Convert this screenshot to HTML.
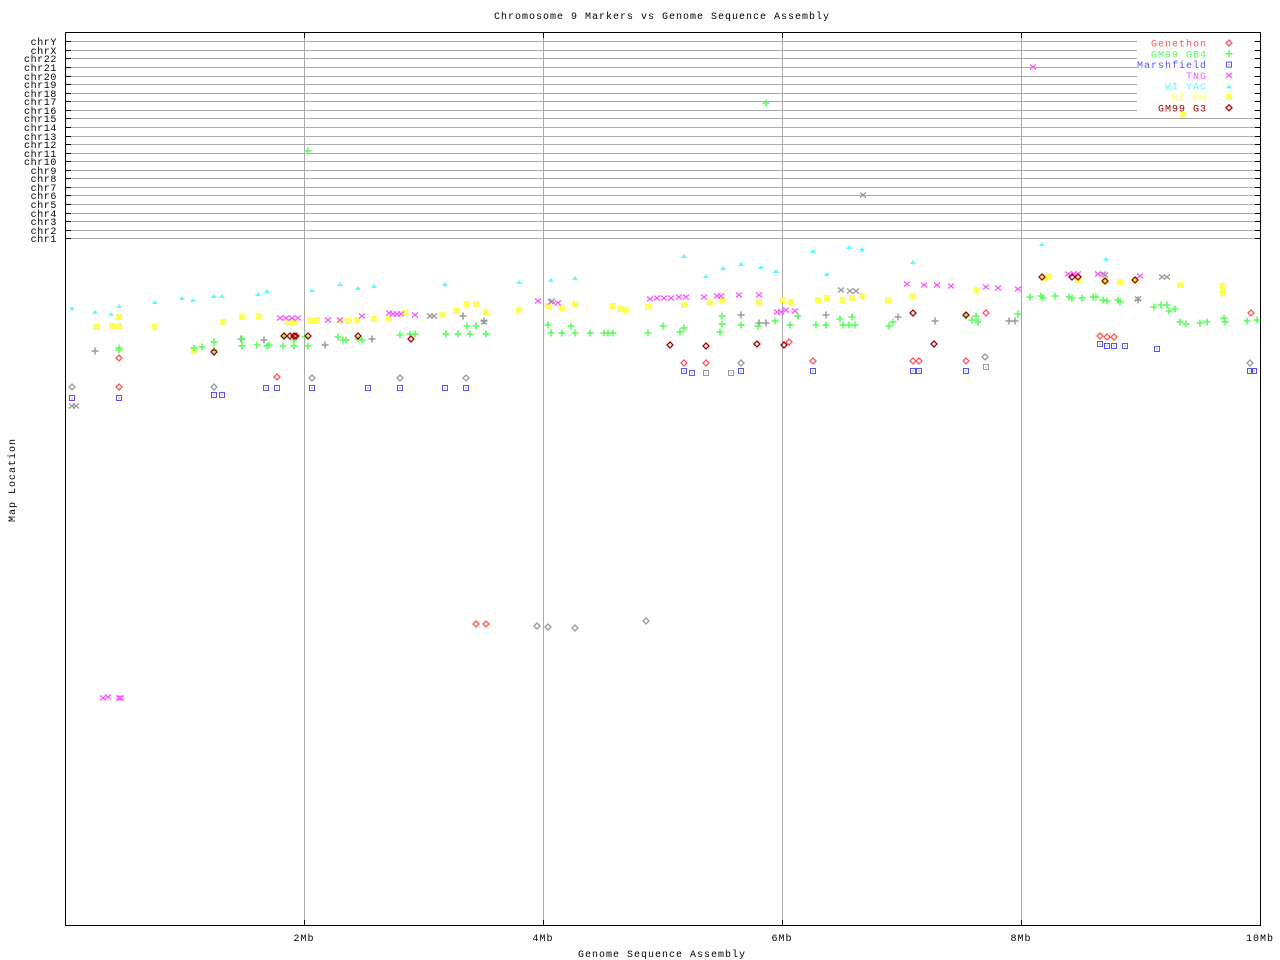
<!DOCTYPE html>
<html><head><meta charset="utf-8"><style>
html,body{margin:0;padding:0;background:#fff;}
svg{display:block;}
text{font-family:"Liberation Mono","DejaVu Sans Mono",monospace;font-size:10px;letter-spacing:1px;}
text.yl{letter-spacing:0.6px;}
</style></head><body>
<svg id="s" width="1280" height="960" xmlns="http://www.w3.org/2000/svg">
<rect width="1280" height="960" fill="#fff"/>
<g id="grid"></g>
<rect x="65.5" y="32.5" width="1195" height="893" fill="none" stroke="#000"/>
<text x="662" y="19" text-anchor="middle">Chromosome 9 Markers vs Genome Sequence Assembly</text>
<text x="662" y="957" text-anchor="middle">Genome Sequence Assembly</text>
<text transform="translate(15,480) rotate(-90)" text-anchor="middle">Map Location</text>
<text x="304" y="941" text-anchor="middle">2Mb</text>
<text x="543" y="941" text-anchor="middle">4Mb</text>
<text x="782" y="941" text-anchor="middle">6Mb</text>
<text x="1021" y="941" text-anchor="middle">8Mb</text>
<text x="1260" y="941" text-anchor="middle">10Mb</text>
<g id="pts"></g>
<g id="leg"></g>
</svg>
<script>
var NS="http://www.w3.org/2000/svg";
function el(p,t,a,txt){var e=document.createElementNS(NS,t);for(var k in a)e.setAttribute(k,a[k]);if(txt)e.textContent=txt;p.appendChild(e);return e;}
var g=document.getElementById('grid');
[304,543,782,1021].forEach(function(x){el(g,'line',{x1:x+.5,y1:33,x2:x+.5,y2:925,stroke:'#aaa'});el(g,'line',{x1:x+.5,y1:33,x2:x+.5,y2:38,stroke:'#000'});el(g,'line',{x1:x+.5,y1:920,x2:x+.5,y2:925,stroke:'#000'});});
var chr=['chrY','chrX','chr22','chr21','chr20','chr19','chr18','chr17','chr16','chr15','chr14','chr13','chr12','chr11','chr10','chr9','chr8','chr7','chr6','chr5','chr4','chr3','chr2','chr1'];
var s=document.getElementById('s');
chr.forEach(function(c,i){var y=Math.round(41.3+i*8.565)+.5;
el(g,'line',{x1:66,y1:y,x2:1260,y2:y,stroke:'#aaa'});
el(g,'line',{x1:66,y1:y,x2:71,y2:y,stroke:'#000'});el(g,'line',{x1:1255,y1:y,x2:1260,y2:y,stroke:'#000'});
el(s,'text',{x:57,y:y+3.5,'text-anchor':'end','class':'yl'},c);});
var P=document.getElementById('pts');
function mk(type,col,x,y,par){par=par||P;
 if(type=='d'){el(par,'polygon',{points:(x)+','+(y-3)+' '+(x+3)+','+y+' '+x+','+(y+3)+' '+(x-3)+','+y,fill:'none',stroke:col,'stroke-width':1.3});}
 else if(type=='p'){el(par,'path',{d:'M'+(x-3.5)+' '+y+'h7M'+x+' '+(y-3.5)+'v7',stroke:col,'stroke-width':1.5});}
 else if(type=='s'){el(par,'rect',{x:x-2.5,y:y-2.5,width:5,height:5,fill:'none',stroke:col,'stroke-width':1});el(par,'rect',{x:x-.5,y:y-.5,width:1,height:1,fill:col});}
 else if(type=='x'){el(par,'path',{d:'M'+(x-3)+' '+(y-2.5)+'L'+(x+3)+' '+(y+2.5)+'M'+(x-3)+' '+(y+2.5)+'L'+(x+3)+' '+(y-2.5),stroke:col,'stroke-width':1.3});}
 else if(type=='t'){el(par,'polygon',{points:(x-3)+','+(y+2)+' '+(x+3)+','+(y+2)+' '+x+','+(y-2),fill:col});}
 else if(type=='a'){el(par,'rect',{x:x-3,y:y-3,width:6,height:6,fill:col});}
}
var C={r:'#f55',g:'#5f5',b:'#55f',m:'#f5f',c:'#5ff',y:'#ff5',dr:'#a00',gr:'#999'};
function L(t,c,a){for(var i=0;i<a.length;i+=2)mk(t,c,a[i],a[i+1]);}
L('t',C.c,[72,308,95,312,111,314,119,306,155,302,182,298,193,300,214,296,222,296,258,294,267,291,312,290,340,284,358,288,374,286,445,284,519,282,551,280,575,278,684,256,706,276,723,268,741,264,761,267,776,271,813,251,827,274,849,247,862,249,913,262,1042,244,1106,259]);
L('a',C.y,[96,327,112,326,119,326,119,317,155,327,194,351,223,322,242,317,259,316,288,323,294,322,310,320,317,320,340,321,348,321,357,320,374,319,389,318,405,313,442,315,456,311,467,304,476,304,486,312,519,310,548,306,562,308,575,304,613,306,620,309,626,310,648,307,684,305,710,303,722,300,759,302,783,300,791,302,818,300,827,298,843,300,852,298,862,296,888,300,913,296,977,290,1045,278,1048,276,1078,280,1105,281,1120,282,1135,280,1183,115,1180,285,1223,286,1223,293]);
L('x',C.m,[103,698,108,697,119,698,121,698,280,318,286,318,292,318,298,318,328,320,340,320,362,316,389,313,393,314,397,314,401,314,415,315,538,301,551,302,558,303,650,299,657,298,664,298,671,298,679,297,686,297,704,297,717,296,721,296,739,295,759,295,777,312,781,312,786,310,795,311,907,284,924,285,937,285,951,286,986,287,998,288,1018,289,1033,67,1068,274,1074,274,1078,274,1098,274,1103,274,1140,276]);
L('x',C.gr,[72,406,76,406,430,316,434,316,484,322,552,301,841,290,850,291,856,291,863,195,1105,275,1162,277,1167,277,1138,299]);
L('p',C.gr,[95,351,241,339,264,340,325,345,372,339,463,316,484,321,741,315,759,323,766,323,826,315,898,317,935,321,1009,321,1015,321,1138,300]);
L('p',C.g,[119,348,119,350,194,348,202,347,214,342,214,350,242,339,242,346,257,345,267,346,269,345,283,346,284,337,294,346,294,340,305,337,308,346,308,151,338,337,343,340,346,340,358,339,362,340,400,335,410,334,415,334,446,334,458,334,470,334,486,334,467,326,476,326,548,325,551,333,562,333,571,326,575,333,590,333,604,333,608,333,613,333,648,333,663,326,680,332,684,328,722,316,722,324,720,332,741,325,758,326,775,321,766,103,790,325,798,316,816,325,826,325,843,325,840,319,849,325,852,317,855,325,889,326,893,322,966,316,972,320,976,316,978,322,1018,314,1030,297,1041,296,1043,298,1055,296,1069,297,1072,298,1082,298,1093,297,1096,297,1103,300,1107,301,1118,300,1120,302,1154,307,1161,305,1167,305,1169,311,1175,309,1180,322,1186,324,1200,323,1207,322,1224,318,1225,322,1247,321,1257,320]);
L('d',C.r,[119,387,119,358,277,377,476,624,486,624,684,363,706,363,813,361,913,361,919,361,966,361,986,313,1100,336,1107,337,1114,337,1251,313,789,342]);
L('d',C.gr,[72,387,214,387,312,378,400,378,466,378,537,626,548,627,575,628,646,621,741,363,1250,363,985,357]);
L('d',C.dr,[214,352,284,336,290,336,294,336,296,336,308,336,358,336,411,339,670,345,706,346,757,344,784,345,934,344,913,313,966,315,1072,277,1078,277,1105,281,1135,280,1042,277]);
L('s',C.b,[72,398,119,398,214,395,222,395,266,388,277,388,312,388,368,388,400,388,445,388,466,388,684,371,692,373,741,371,813,371,913,371,919,371,966,371,1100,344,1107,346,1114,346,1125,346,1157,349,1250,371,1254,371]);
L('s',C.gr,[706,373,731,373,986,367]);
var lg=document.getElementById('leg');
el(lg,'rect',{x:1137,y:36,width:117,height:76,fill:'#fff'});
var items=[['Genethon',C.r,'d'],['GM99 GB4',C.g,'p'],['Marshfield',C.b,'s'],['TNG',C.m,'x'],['WI YAC',C.c,'t'],['WI RH',C.y,'a'],['GM99 G3',C.dr,'d']];
items.forEach(function(it,i){var y=43+i*10.8;
el(lg,'text',{x:1207,y:y+3.5,'text-anchor':'end',fill:it[1]},it[0]);mk(it[2],it[1],1229,y,lg);});
</script>
</body></html>
